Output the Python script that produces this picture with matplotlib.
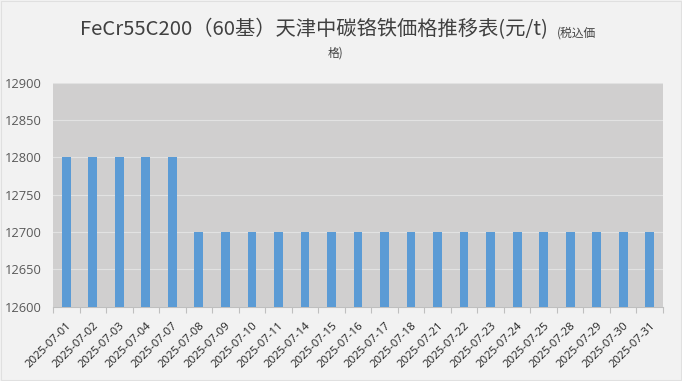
"""Tianjin FeCr55C200 price trend, July 2025 (bar chart)."""
import numpy as np
from matplotlib import pyplot as plt
from matplotlib.patches import Rectangle

plt.rcParams['font.family'] = ['Noto Sans CJK SC', 'DejaVu Sans']

dates = ["2025-07-01", "2025-07-02", "2025-07-03", "2025-07-04", "2025-07-07",
         "2025-07-08", "2025-07-09", "2025-07-10", "2025-07-11", "2025-07-14",
         "2025-07-15", "2025-07-16", "2025-07-17", "2025-07-18", "2025-07-21",
         "2025-07-22", "2025-07-23", "2025-07-24", "2025-07-25", "2025-07-28",
         "2025-07-29", "2025-07-30", "2025-07-31"]
prices = [12800, 12800, 12800, 12800, 12800,
          12700, 12700, 12700, 12700, 12700,
          12700, 12700, 12700, 12700, 12700,
          12700, 12700, 12700, 12700, 12700,
          12700, 12700, 12700]
y_ticks = [12600, 12650, 12700, 12750, 12800, 12850, 12900]

fig = plt.figure(figsize=(6.82, 3.81), dpi=100, facecolor="#f2f2f2")
# chart-area border (the figure continues slightly past it on the right/bottom)
fig.patches.append(Rectangle((0.5 / 682, 1 - 379.5 / 381), 680 / 682, 379 / 381,
                             transform=fig.transFigure, fill=False,
                             edgecolor="#e0e0e0", linewidth=0.8))

ax = fig.add_axes([53 / 682, 1 - 306.7 / 381, 610 / 682, 224 / 381])
ax.set_facecolor("#d0cfcf")

x = np.arange(len(dates))
ax.bar(x, prices, width=0.33, color="#5b9bd5", zorder=3)

ax.set_ylim(12600, 12900)
ax.set_xlim(-0.5, len(dates) - 0.5)
ax.set_yticks(y_ticks)
ax.set_yticklabels([str(v) for v in y_ticks], fontsize=9.3, color="#595959",
                   family=["Open Sans", "DejaVu Sans"])
ax.tick_params(axis="y", length=0, pad=8)
ax.grid(axis="y", color="#e2e2e2", linewidth=0.8, zorder=1)

ax.set_xticks(x)
ax.set_xticklabels(dates, rotation=45, ha="right", va="top", rotation_mode="anchor",
                   fontsize=8.2, color="#222222", family=["Open Sans", "DejaVu Sans"])
ax.tick_params(axis="x", length=0, pad=10)
ax.set_xticks(np.arange(len(dates) + 1) - 0.5, minor=True)
ax.tick_params(axis="x", which="minor", length=4, color="#bfbfbf", width=0.8)

for side in ("top", "right", "left"):
    ax.spines[side].set_visible(False)
ax.spines["bottom"].set_color("#bfbfbf")
ax.spines["bottom"].set_linewidth(0.8)

fig.text(80 / 682, 1 - 30 / 381, "FeCr55C200（60基）天津中碳铬铁価格推移表(元/t)",
         ha="left", va="center", fontsize=14.6, color="#404040", fontweight="light")
fig.text(557 / 682, 1 - 33 / 381, "(税込価", ha="left", va="center",
         fontsize=8.5, color="#404040")
fig.text(335.5 / 682, 1 - 53 / 381, "格)", ha="center", va="center",
         fontsize=8.5, color="#404040")

fig.savefig("out.png", dpi=100, facecolor=fig.get_facecolor())
